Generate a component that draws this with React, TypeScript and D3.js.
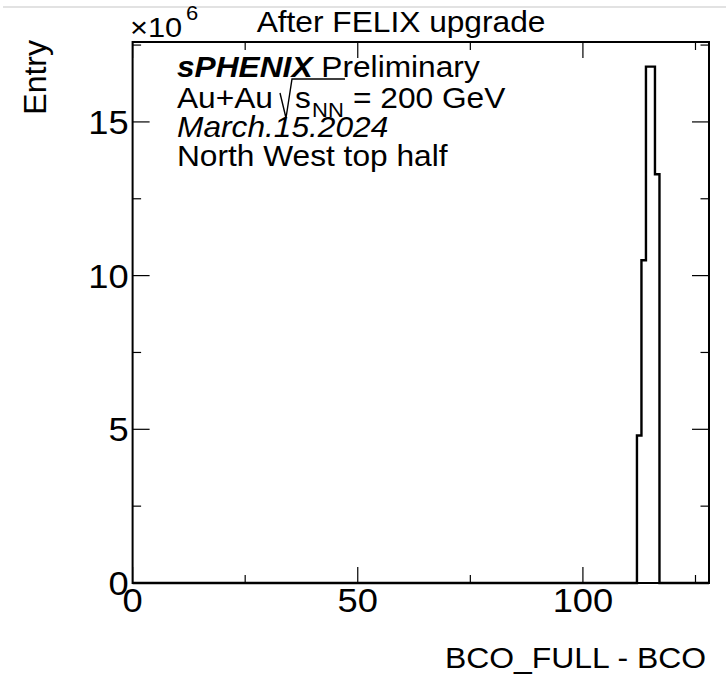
import React from 'react';
import * as d3 from 'd3';

// Histogram contents: lower bin edges (bin width 1) and entries per bin
const binLow = [112, 113, 114, 115, 116];
const binCounts = [4.8e6, 10.5e6, 16.8e6, 16.8e6, 13.3e6];
const binWidth = 1;

// Axis ticks (y ticks in units of 10^6)
const xMajorTicks = [0, 50, 100];
const xMinorTicks = [25, 75, 125];
const yMajorTicks = [0, 5, 10, 15];
const yMinorTicks = [2.5, 7.5, 12.5, 17.5];
const xRange = [0, 128];
const yMax = 17.6;

const FONT = "'Liberation Sans', Arial, Helvetica, sans-serif";

const W = 726;
const H = 677;
const frame = { left: 132.6, right: 709, top: 42, bottom: 583 };

const SX = 1.1; // horizontal stretch of the text

function SText(props: {
  x: number; y: number; size: number; anchor?: string; weight?: string; style?: string; children: React.ReactNode;
}) {
  const { x, y, size, anchor = 'start', weight = 'normal', style = 'normal', children } = props;
  return (
    <text
      transform={`translate(${x},${y}) scale(${SX},1)`}
      fontFamily={FONT}
      fontSize={size}
      fontWeight={weight}
      fontStyle={style}
      textAnchor={anchor}
      fill="#000"
    >
      {children}
    </text>
  );
}

export default function App() {
  const x = d3.scaleLinear().domain(xRange).range([frame.left, frame.right]);
  const y = d3.scaleLinear().domain([0, yMax * 1e6]).range([frame.bottom, frame.top]);
  const yU = (v: number) => y(v * 1e6);

  const pts: [number, number][] = [[xRange[0], 0]];
  binLow.forEach((lo, i) => pts.push([lo, binCounts[i]]));
  pts.push([binLow[binLow.length - 1] + binWidth, 0]);
  pts.push([xRange[1], 0]);
  const hist = d3
    .line<[number, number]>()
    .x((d) => x(d[0]))
    .y((d) => y(d[1]))
    .curve(d3.curveStepAfter)(pts);

  const majY = 17, minY = 8.5, majX = 16, minX = 8;
  const tickLabel = 33;

  return (
    <svg width={W} height={H} style={{ position: 'absolute', left: 0, top: 0, background: '#fff' }}>
      <rect x={0} y={0} width={W} height={H} fill="#fff" />
      <line x1={3} x2={W} y1={7} y2={7} stroke="#d8d8d8" strokeWidth={1.5} />

      {/* histogram outline */}
      <path d={hist ?? ''} fill="none" stroke="#000" strokeWidth={2.4} />

      {/* ticks */}
      <g stroke="#000" strokeWidth={1.2}>
        {yMajorTicks.map((t) => (
          <g key={'ym' + t}>
            <line x1={frame.left} x2={frame.left + majY} y1={yU(t)} y2={yU(t)} />
            <line x1={frame.right} x2={frame.right - majY} y1={yU(t)} y2={yU(t)} />
          </g>
        ))}
        {yMinorTicks.map((t) => (
          <g key={'yn' + t}>
            <line x1={frame.left} x2={frame.left + minY} y1={yU(t)} y2={yU(t)} />
            <line x1={frame.right} x2={frame.right - minY} y1={yU(t)} y2={yU(t)} />
          </g>
        ))}
        {xMajorTicks.map((t) => (
          <g key={'xm' + t}>
            <line x1={x(t)} x2={x(t)} y1={frame.bottom} y2={frame.bottom - majX} />
            <line x1={x(t)} x2={x(t)} y1={frame.top} y2={frame.top + majX} />
          </g>
        ))}
        {xMinorTicks.map((t) => (
          <g key={'xn' + t}>
            <line x1={x(t)} x2={x(t)} y1={frame.bottom} y2={frame.bottom - minX} />
            <line x1={x(t)} x2={x(t)} y1={frame.top} y2={frame.top + minX} />
          </g>
        ))}
      </g>

      {/* frame */}
      <rect
        x={frame.left}
        y={frame.top}
        width={frame.right - frame.left}
        height={frame.bottom - frame.top}
        fill="none"
        stroke="#000"
        strokeWidth={2}
      />

      {/* tick labels */}
      {yMajorTicks.map((t) => (
        <SText key={'yl' + t} x={frame.left - 4} y={yU(t) + 12} size={tickLabel} anchor="end">
          {t}
        </SText>
      ))}
      {xMajorTicks.map((t) => (
        <SText key={'xl' + t} x={x(t)} y={frame.bottom + 29} size={tickLabel} anchor="middle">
          {t}
        </SText>
      ))}

      {/* exponent */}
      <SText x={130} y={37} size={28}>×10</SText>
      <SText x={186} y={20} size={20}>6</SText>

      {/* title */}
      <SText x={401} y={32} size={28.8} anchor="middle">After FELIX upgrade</SText>

      {/* axis titles */}
      <SText x={frame.right - 3} y={668} size={29} anchor="end">BCO_FULL - BCO</SText>
      <text
        transform={`translate(46,40) rotate(-90)`}
        fontFamily={FONT}
        fontSize={32}
        textAnchor="end"
      >
        Entry
      </text>

      {/* labels */}
      <text transform={`translate(177,77) scale(${SX},1)`} fontFamily={FONT} fontSize={28.8}>
        <tspan fontWeight="bold" fontStyle="italic">sPHENIX</tspan>
        <tspan> Preliminary</tspan>
      </text>
      <SText x={177} y={108} size={28.8}>Au+Au</SText>
      <path d="M280,93 L286,118 L292,79 L345,79" fill="none" stroke="#000" strokeWidth={1.4} />
      <SText x={295} y={108} size={28.8}>s</SText>
      <SText x={312} y={117} size={20}>NN</SText>
      <SText x={353} y={108} size={28.8}>= 200 GeV</SText>
      <SText x={177} y={137} size={28.8} style="italic">March.15.2024</SText>
      <SText x={177} y={166} size={28.8}>North West top half</SText>
    </svg>
  );
}
